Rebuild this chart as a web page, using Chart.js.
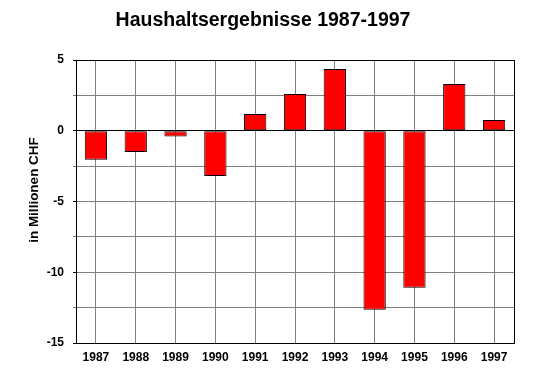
<!DOCTYPE html>
<html>
<head>
<meta charset="utf-8">
<script src="https://cdn.jsdelivr.net/npm/chart.js@4/dist/chart.umd.min.js"></script>
<style>
  html, body { margin: 0; padding: 0; background: #fff; }
  #wrap { width: 546px; height: 392px; }
</style>
</head>
<body>
<div id="wrap"><canvas id="chart" width="546" height="392"></canvas></div>
<script>
// data
const years = ['1987', '1988', '1989', '1990', '1991', '1992', '1993', '1994', '1995', '1996', '1997'];
const results = [-2.05, -1.5, -0.4, -3.2, 1.18, 2.6, 4.36, -12.65, -11.1, 3.3, 0.76];
const yTicks = [5, 0, -5, -10, -15];

const chartTitle = 'Haushaltsergebnisse 1987-1997';
const yTitle = 'in Millionen CHF';

const FONT = '"Liberation Sans", Arial, sans-serif';

// frame, title and axis label
const decorations = {
    id: 'decorations',
    afterDatasetsDraw(chart) {
        const { ctx, chartArea: a } = chart;
        ctx.save();
        ctx.strokeStyle = '#000';
        ctx.lineWidth = 1;
        ctx.strokeRect(Math.round(a.left) + 0.5, Math.round(a.top) + 0.5,
            Math.round(a.right - a.left), Math.round(a.bottom - a.top));

        ctx.fillStyle = '#000';
        ctx.textAlign = 'center';
        ctx.textBaseline = 'alphabetic';
        ctx.font = 'bold 19.5px ' + FONT;
        ctx.fillText(chartTitle, 263, 26);

        ctx.translate(38, 190);
        ctx.rotate(-Math.PI / 2);
        ctx.font = 'bold 13.5px ' + FONT;
        ctx.fillText(yTitle, 0, 0);
        ctx.restore();
    }
};

new Chart(document.getElementById('chart'), {
    type: 'bar',
    data: {
        labels: years,
        datasets: [{
            data: results,
            backgroundColor: '#ff0000',
            borderColor: '#000',
            borderWidth: 1,
            borderSkipped: false,
            barPercentage: 0.56,
            categoryPercentage: 1
        }]
    },
    options: {
        responsive: false,
        animation: false,
        layout: { padding: { top: 60, right: 32, left: 0, bottom: 0 } },
        plugins: {
            legend: { display: false },
            title: { display: false },
            tooltip: { enabled: false }
        },
        scales: {
            x: {
                offset: true,
                grid: { offset: false, color: '#808080', drawTicks: false },
                border: { color: '#000' },
                ticks: {
                    color: '#000',
                    font: { family: FONT, size: 12, weight: 'bold' },
                    padding: 7,
                    maxRotation: 0,
                    autoSkip: false
                },
                afterFit(scale) { scale.height = 49; }
            },
            y: {
                min: -15,
                max: 5,
                grid: {
                    color: ctx => (ctx.tick && (ctx.tick.value === 0 || ctx.tick.value === 5)) ? '#000' : '#808080',
                    tickColor: ctx => (ctx.tick && yTicks.includes(ctx.tick.value)) ? '#000' : '#808080',
                    tickLength: 3
                },
                border: { color: '#000' },
                ticks: {
                    stepSize: 2.5,
                    color: '#000',
                    font: { family: FONT, size: 12, weight: 'bold' },
                    padding: 9,
                    callback: v => yTicks.includes(v) ? String(v) : ''
                },
                afterFit(scale) { scale.width = 76; }
            }
        }
    },
    plugins: [decorations]
});
</script>
</body>
</html>
